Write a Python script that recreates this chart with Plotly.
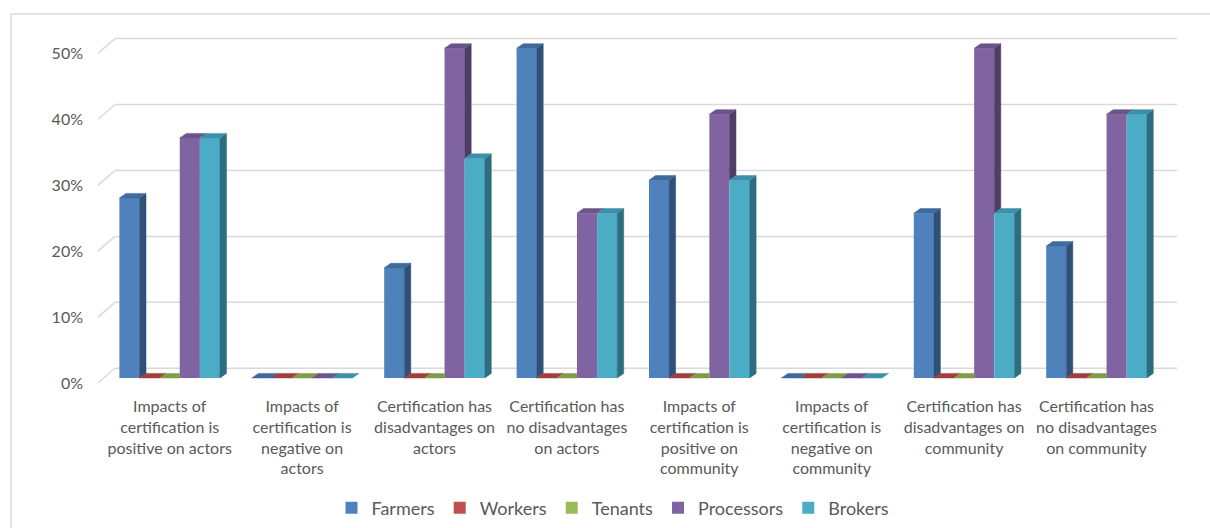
import plotly.graph_objects as go

# ---------------- data ----------------
categories = [
    "Impacts of<br>certification is<br>positive on actors",
    "Impacts of<br>certification is<br>negative on<br>actors",
    "Certification has<br>disadvantages on<br>actors",
    "Certification has<br>no disadvantages<br>on actors",
    "Impacts of<br>certification is<br>positive on<br>community",
    "Impacts of<br>certification is<br>negative on<br>community",
    "Certification has<br>disadvantages on<br>community",
    "Certification has<br>no disadvantages<br>on community",
]
series_names = ["Farmers", "Workers", "Tenants", "Processors", "Brokers"]
farmers = [27.3, 0, 16.7, 50.0, 30.0, 0, 25.0, 20.0]
workers = [0, 0, 0, 0, 0, 0, 0, 0]
tenants = [0, 0, 0, 0, 0, 0, 0, 0]
processors = [36.4, 0, 50.0, 25.0, 40.0, 0, 50.0, 40.0]
brokers = [36.4, 0, 33.3, 25.0, 30.0, 0, 25.0, 40.0]
series_values = [farmers, workers, tenants, processors, brokers]
y_ticks = [0, 10, 20, 30, 40, 50]
y_tick_labels = ["0%", "10%", "20%", "30%", "40%", "50%"]

front_colors = ["#4F81BD", "#C0504D", "#9BBB59", "#8064A2", "#4BACC6"]
side_colors = ["#2F5077", "#7A302E", "#627A36", "#4E3D66", "#2C6E80"]
top_colors = ["#3E6A9C", "#A03F3C", "#809B48", "#6A5489", "#3C90A7"]

# ---------------- geometry (pixels) ----------------
W, H = 1210, 528
ML, MR, MT, MB = 103, 20, 20, 133
PW, PH = W - ML - MR, H - MT - MB
X0PX, CATPX = 169.7, 132.4          # first category centre, px per category
Y0PX, PXPCT = 378.0, 6.594          # front zero line, px per percent
xr = [(ML - X0PX) / CATPX, (W - MR - X0PX) / CATPX]
yr = [-(H - MB - Y0PX) / PXPCT, (Y0PX - MT) / PXPCT]

def xp(px):
    return (px - ML) / PW

def yp(py):
    return (H - MB - py) / PH

DX = 6.5 / CATPX          # depth offset in x units
DY = 4.6 / PXPCT          # depth offset in y units
BACK = 9.7 / PXPCT        # back wall offset
EDGE = 5.0 / PXPCT        # front floor edge offset
LBL = 5.5 / PXPCT         # tick label offset
BARGAP = 0.24
n = len(series_names)
BW = (1 - BARGAP) / n

fig = go.Figure()

# front faces
for i, name in enumerate(series_names):
    fig.add_trace(go.Bar(
        x=list(range(len(categories))), y=series_values[i], name=name,
        marker=dict(color=front_colors[i], line=dict(width=0)),
        hovertemplate="%{y}%<extra>" + name + "</extra>",
    ))

# side and top faces
for i in range(n):
    sx, sy, tx, ty = [], [], [], []
    for k in range(len(categories)):
        v = series_values[i][k]
        nxt = series_values[i + 1][k] if i < n - 1 else 0
        L = k - (1 - BARGAP) / 2 + BW * i
        R = L + BW
        if v > nxt:
            lo = nxt
            sx += [R, R + DX, R + DX, R, R, None]
            sy += [lo, lo + DY, v + DY, v, lo, None]
        if nxt > v:
            tx += [L, R, R, L + DX, L, None]
            ty += [v, v, v + DY, v + DY, v, None]
        else:
            tx += [L, R, R + DX, L + DX, L, None]
            ty += [v, v, v + DY, v + DY, v, None]
    if sx:
        fig.add_trace(go.Scatter(x=sx, y=sy, fill="toself", fillcolor=side_colors[i],
                                 mode="lines", line=dict(width=0.5, color=side_colors[i]),
                                 hoverinfo="skip", showlegend=False))
    fig.add_trace(go.Scatter(x=tx, y=ty, fill="toself", fillcolor=top_colors[i],
                             mode="lines", line=dict(width=0.5, color=top_colors[i]),
                             hoverinfo="skip", showlegend=False))

# back-wall gridlines and side diagonals
shapes = []
for v in y_ticks:
    shapes.append(dict(type="line", xref="paper", yref="y", x0=xp(115), x1=xp(1177),
                       y0=v + BACK, y1=v + BACK, line=dict(color="#D9D9D9", width=1.5),
                       layer="below"))
    shapes.append(dict(type="line", xref="paper", yref="y", x0=xp(98), x1=xp(115),
                       y0=v - EDGE, y1=v + BACK, line=dict(color="#D9D9D9", width=1.5),
                       layer="below"))
# chart border: only the top and left edges are inside the picture
shapes.append(dict(type="line", xref="paper", yref="paper", x0=xp(11), x1=xp(W),
                   y0=yp(14), y1=yp(14), line=dict(color="#D9D9D9", width=1.5),
                   layer="below"))
shapes.append(dict(type="line", xref="paper", yref="paper", x0=xp(11), x1=xp(11),
                   y0=yp(14), y1=yp(H), line=dict(color="#D9D9D9", width=1.5),
                   layer="below"))

font_family = "Lato, 'Open Sans', sans-serif"
fig.update_layout(
    width=W, height=H,
    margin=dict(l=ML, r=MR, t=MT, b=MB, pad=0, autoexpand=False),
    paper_bgcolor="white", plot_bgcolor="white",
    barmode="group", bargap=BARGAP, bargroupgap=0,
    font=dict(family=font_family, color="#595959", size=16),
    xaxis=dict(range=xr, tickvals=list(range(len(categories))), ticktext=categories,
               showgrid=False, zeroline=False, showline=False, ticks="",
               automargin=False,
               tickfont=dict(size=16, color="#595959"), fixedrange=True),
    yaxis=dict(range=yr, showgrid=False, zeroline=False, showticklabels=False,
               automargin=False, fixedrange=True),
    yaxis2=dict(range=[yr[0] + LBL, yr[1] + LBL], overlaying="y", anchor="x", side="left",
                tickmode="array", tickvals=y_ticks, ticktext=y_tick_labels,
                showgrid=False, zeroline=False, automargin=False,
                ticks="", ticklabelstandoff=19, tickfont=dict(size=16, color="#595959"),
                fixedrange=True),
    shapes=shapes,
    legend=dict(orientation="h", x=xp(613), xanchor="center", y=yp(508), yanchor="middle",
                font=dict(size=18, color="#595959"), bgcolor="rgba(0,0,0,0)"),
    showlegend=True,
)
# invisible helper trace so that the percentage axis is drawn
fig.add_trace(go.Scatter(x=[0], y=[0], yaxis="y2", mode="markers",
                         marker=dict(opacity=0), showlegend=False, hoverinfo="skip"))

fig.write_html(
    "out.html",
    config={"displayModeBar": False},
    post_script="document.body.style.margin='0';document.body.style.overflow='hidden';"
                "document.documentElement.style.overflow='hidden';",
)
